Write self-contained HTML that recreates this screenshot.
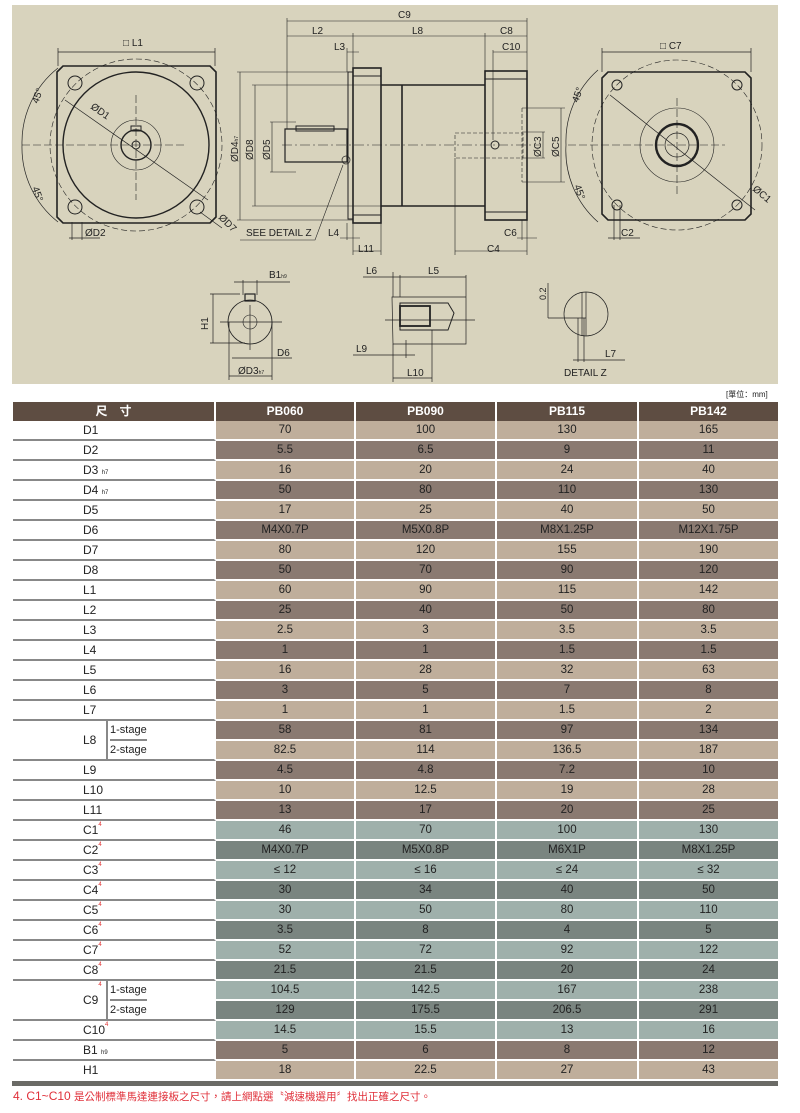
<!DOCTYPE html>
<html><head><meta charset="utf-8"><style>
*{margin:0;padding:0;box-sizing:border-box}
body{width:800px;height:1113px;background:#fff;position:relative;overflow:hidden;font-family:"Liberation Sans","Noto Sans CJK TC",sans-serif}
#tbl{position:absolute;left:13px;top:402px;width:765px}
.r{display:flex;height:20px}
.h{height:19px;display:flex}
.c{text-align:center;font-size:11.5px;line-height:18px;color:#222;border-bottom:2px solid #fff;border-right:2px solid #fff}
.L{width:203px;border-bottom:2px solid #888;border-right:2px solid #fff;font-size:12px;line-height:18px;padding-left:70px;color:#222;background:#fff;position:relative}
.w1{width:140px}.w2{width:141px}.w3{width:142px}.w4{width:139px;border-right:none}
.a{background:#bfae9b}.b{background:#8a7a71}.t{background:#9fb0ab}.u{background:#7a8580}
.hd{background:#5e4d42;color:#fff;font-weight:bold;font-size:12px;line-height:18px;text-align:center;border-right:2px solid #fff}
sub{font-size:6px;vertical-align:baseline}
sup{font-size:6px;color:#e03030;vertical-align:top;line-height:8px}
.s{position:absolute;left:93px;top:0;bottom:0;border-left:2px solid #888;padding-left:2px;font-size:11px}
</style></head><body>
<svg style="position:absolute;left:0;top:0" width="800" height="400" font-family="Liberation Sans" font-size="10" fill="#222">
<rect x="12" y="5" width="766" height="379" fill="#d8d3bd"/>
<g stroke="#222" fill="none">
<path d="M63 66 H210 L216 72 V217 L210 223 H63 L57 217 V72 Z" stroke-width="1.6"/>
<circle cx="136" cy="145" r="73" stroke-width="1.4"/>
<circle cx="136" cy="145" r="86" stroke-dasharray="6 3" stroke-width="0.6"/>
<circle cx="136" cy="145" r="25" stroke-width="0.6"/>
<circle cx="136" cy="145" r="15" stroke-width="1.4"/>
<circle cx="136" cy="145" r="4" stroke-width="1"/>
<rect x="131" y="126" width="10" height="5" stroke-width="1"/>
<circle cx="75" cy="83" r="7"/><circle cx="197" cy="83" r="7"/><circle cx="75" cy="207" r="7"/><circle cx="197" cy="207" r="7"/>
<path d="M22 145 H185 M136 95 V200" stroke-dasharray="8 3" stroke-width="0.6"/>
<path d="M65 100 L208 200 M58 52 H215 M58 48 V66 M215 48 V66 M72 222 V240 M82 222 V240 M69 238 H100 M200 212 L222 228" stroke-width="0.7"/>
<path d="M58 68 A95 95 0 0 0 22 145 A95 95 0 0 0 58 222" stroke-width="0.7"/>
<path d="M285 129 H347 V162 H285 Z" stroke-width="1.2"/>
<rect x="296" y="126" width="38" height="5" stroke-width="1"/>
<rect x="348" y="72" width="5" height="147" stroke-width="1"/>
<rect x="353" y="68" width="28" height="155" stroke-width="1.6"/>
<path d="M353 76 H381 M353 215 H381" stroke-width="1"/>
<path d="M381 85 H485 M381 206 H485 M402 85 V206" stroke-width="1.6"/>
<rect x="485" y="71" width="42" height="149" stroke-width="1.6"/>
<path d="M485 79 H527 M485 212 H527" stroke-width="1"/>
<circle cx="495" cy="145" r="4" stroke-width="1"/>
<circle cx="346" cy="160" r="4" stroke-width="0.7"/>
<path d="M282 145 H540" stroke-dasharray="10 3 2 3" stroke-width="0.6"/>
<path d="M455 133 H523 V158 H455 Z M522 108 V182" stroke-dasharray="4 2" stroke-width="0.6"/>
<g stroke-width="0.6">
<path d="M287 21 H527 M287 36 H527 M287 18 V129 M527 18 V71 M353 33 V68 M485 33 V71 M347 52 H359 M347 48 V72 M493 52 H527 M493 50 V140"/>
<path d="M237 72 H348 M237 220 H353 M240 72 V220 M252 85 H381 M252 206 H381 M255 85 V206 M270 122 H296 M270 172 H296 M272 122 V172"/>
<path d="M522 132 H545 M522 158 H545 M543 132 V158 M522 108 H565 M522 182 H565 M561 108 V182"/>
<path d="M340 238 H360 M347 223 V240 M353 223 V255 M381 223 V255 M353 251 H381 M455 158 V255 M527 220 V255 M455 251 H527 M517 238 H537 M522 220 V240 M240 240 H315 L343 165"/>
</g>
<path d="M608 72 H745 L751 78 V214 L745 220 H608 L602 214 V78 Z" stroke-width="1.6"/>
<circle cx="677" cy="145" r="85" stroke-dasharray="6 3" stroke-width="0.6"/>
<circle cx="677" cy="145" r="37" stroke-width="0.6"/>
<circle cx="677" cy="145" r="21" stroke-width="2.4"/>
<circle cx="677" cy="145" r="12" stroke-width="0.7"/>
<circle cx="617" cy="85" r="5"/><circle cx="737" cy="85" r="5"/><circle cx="617" cy="205" r="5"/><circle cx="737" cy="205" r="5"/>
<path d="M568 145 H725 M677 98 V195" stroke-dasharray="8 3" stroke-width="0.6"/>
<g stroke-width="0.7">
<path d="M610 95 L755 210 M602 52 H751 M602 48 V72 M751 48 V72 M614 205 V240 M620 205 V240 M608 238 H640"/>
<path d="M598 70 A95 95 0 0 0 566 145 A95 95 0 0 0 598 222"/>
</g>
<circle cx="250" cy="322" r="22" stroke-width="0.8"/>
<circle cx="250" cy="322" r="7" stroke-width="0.6"/>
<rect x="245" y="294" width="10" height="7" stroke-width="1.2"/>
<g stroke-width="0.7">
<path d="M210 294 H240 M210 343 H245 M213 294 V343 M220 322 H282 M250 305 V350 M243 280 V295 M257 280 V295 M234 282 H290"/>
<path d="M229 322 V380 M272 322 V380 M229 376 H272 M232 358 H292"/>
<path d="M392 297 H466 V344 H393 Z M393 272 V297 M400 275 V297 M466 275 V297 M363 277 H400 M400 277 H466"/>
<path d="M400 303 H448 L454 313 L448 330 H400 Z" stroke-width="1"/>
<path d="M385 320 H475 M393 344 V382 M432 330 V382 M393 378 H432 M353 355 H415 M406 340 V358"/>
<circle cx="586" cy="314" r="22"/>
<path d="M582 292 V336 M586 292 V336 M548 318 H586 M548 283 V318 M578 318 V362 M584 318 V362 M573 360 H625"/>
</g>
<rect x="400" y="306" width="30" height="20" stroke-width="1.8"/>
</g>
<text x="123" y="46">□ L1</text><text x="660" y="49">□ C7</text>
<text x="398" y="18">C9</text><text x="312" y="34">L2</text><text x="412" y="34">L8</text><text x="500" y="34">C8</text>
<text x="334" y="50">L3</text><text x="502" y="50">C10</text>
<text x="246" y="236">SEE DETAIL Z</text><text x="328" y="236">L4</text><text x="358" y="252">L11</text>
<text x="504" y="236">C6</text><text x="487" y="252">C4</text><text x="621" y="236">C2</text>
<text x="85" y="236">ØD2</text>
<text transform="translate(90,108) rotate(35)">ØD1</text>
<text transform="translate(218,218) rotate(45)">ØD7</text>
<text transform="translate(752,190) rotate(40)">ØC1</text>
<text transform="translate(38,104) rotate(-70)">45°</text>
<text transform="translate(32,188) rotate(70)">45°</text>
<text transform="translate(578,103) rotate(-70)">45°</text>
<text transform="translate(574,186) rotate(70)">45°</text>
<text transform="translate(238,162) rotate(-90)">ØD4<tspan font-size="5">h7</tspan></text>
<text transform="translate(253,160) rotate(-90)">ØD8</text>
<text transform="translate(270,160) rotate(-90)">ØD5</text>
<text transform="translate(541,157) rotate(-90)">ØC3</text>
<text transform="translate(559,157) rotate(-90)">ØC5</text>
<text transform="translate(208,330) rotate(-90)">H1</text>
<text transform="translate(546,300) rotate(-90)" font-size="9">0.2</text>
<text x="269" y="278">B1<tspan font-size="5">h9</tspan></text>
<text x="277" y="356">D6</text><text x="238" y="374">ØD3<tspan font-size="5">h7</tspan></text>
<text x="366" y="274">L6</text><text x="428" y="274">L5</text><text x="356" y="352">L9</text><text x="407" y="376">L10</text>
<text x="605" y="357">L7</text><text x="564" y="376">DETAIL Z</text>
<text x="726" y="397" font-size="8">[單位：mm]</text>
</svg>
<div id="tbl">
<div class="h"><div class="hd" style="width:203px">尺　寸</div><div class="hd w1">PB060</div><div class="hd w2">PB090</div><div class="hd w3">PB115</div><div class="hd w4" style="border-right:none">PB142</div></div>
<div class="r"><div class="L">D1</div><div class="c a w1">70</div><div class="c a w2">100</div><div class="c a w3">130</div><div class="c a w4">165</div></div>
<div class="r"><div class="L">D2</div><div class="c b w1">5.5</div><div class="c b w2">6.5</div><div class="c b w3">9</div><div class="c b w4">11</div></div>
<div class="r"><div class="L">D3 <sub>h7</sub></div><div class="c a w1">16</div><div class="c a w2">20</div><div class="c a w3">24</div><div class="c a w4">40</div></div>
<div class="r"><div class="L">D4 <sub>h7</sub></div><div class="c b w1">50</div><div class="c b w2">80</div><div class="c b w3">110</div><div class="c b w4">130</div></div>
<div class="r"><div class="L">D5</div><div class="c a w1">17</div><div class="c a w2">25</div><div class="c a w3">40</div><div class="c a w4">50</div></div>
<div class="r"><div class="L">D6</div><div class="c b w1">M4X0.7P</div><div class="c b w2">M5X0.8P</div><div class="c b w3">M8X1.25P</div><div class="c b w4">M12X1.75P</div></div>
<div class="r"><div class="L">D7</div><div class="c a w1">80</div><div class="c a w2">120</div><div class="c a w3">155</div><div class="c a w4">190</div></div>
<div class="r"><div class="L">D8</div><div class="c b w1">50</div><div class="c b w2">70</div><div class="c b w3">90</div><div class="c b w4">120</div></div>
<div class="r"><div class="L">L1</div><div class="c a w1">60</div><div class="c a w2">90</div><div class="c a w3">115</div><div class="c a w4">142</div></div>
<div class="r"><div class="L">L2</div><div class="c b w1">25</div><div class="c b w2">40</div><div class="c b w3">50</div><div class="c b w4">80</div></div>
<div class="r"><div class="L">L3</div><div class="c a w1">2.5</div><div class="c a w2">3</div><div class="c a w3">3.5</div><div class="c a w4">3.5</div></div>
<div class="r"><div class="L">L4</div><div class="c b w1">1</div><div class="c b w2">1</div><div class="c b w3">1.5</div><div class="c b w4">1.5</div></div>
<div class="r"><div class="L">L5</div><div class="c a w1">16</div><div class="c a w2">28</div><div class="c a w3">32</div><div class="c a w4">63</div></div>
<div class="r"><div class="L">L6</div><div class="c b w1">3</div><div class="c b w2">5</div><div class="c b w3">7</div><div class="c b w4">8</div></div>
<div class="r"><div class="L">L7</div><div class="c a w1">1</div><div class="c a w2">1</div><div class="c a w3">1.5</div><div class="c a w4">2</div></div>
<div style="display:flex;height:40px"><div class="L" style="line-height:38px">L8<div class="s"><div style="height:20px;border-bottom:2px solid #888;line-height:18px">1-stage</div><div style="line-height:18px">2-stage</div></div></div>
<div><div class="r"><div class="c b w1">58</div><div class="c b w2">81</div><div class="c b w3">97</div><div class="c b w4">134</div></div>
<div class="r"><div class="c a w1">82.5</div><div class="c a w2">114</div><div class="c a w3">136.5</div><div class="c a w4">187</div></div></div></div>
<div class="r"><div class="L">L9</div><div class="c b w1">4.5</div><div class="c b w2">4.8</div><div class="c b w3">7.2</div><div class="c b w4">10</div></div>
<div class="r"><div class="L">L10</div><div class="c a w1">10</div><div class="c a w2">12.5</div><div class="c a w3">19</div><div class="c a w4">28</div></div>
<div class="r"><div class="L">L11</div><div class="c b w1">13</div><div class="c b w2">17</div><div class="c b w3">20</div><div class="c b w4">25</div></div>
<div class="r"><div class="L">C1<sup>4</sup></div><div class="c t w1">46</div><div class="c t w2">70</div><div class="c t w3">100</div><div class="c t w4">130</div></div>
<div class="r"><div class="L">C2<sup>4</sup></div><div class="c u w1">M4X0.7P</div><div class="c u w2">M5X0.8P</div><div class="c u w3">M6X1P</div><div class="c u w4">M8X1.25P</div></div>
<div class="r"><div class="L">C3<sup>4</sup></div><div class="c t w1">≤ 12</div><div class="c t w2">≤ 16</div><div class="c t w3">≤ 24</div><div class="c t w4">≤ 32</div></div>
<div class="r"><div class="L">C4<sup>4</sup></div><div class="c u w1">30</div><div class="c u w2">34</div><div class="c u w3">40</div><div class="c u w4">50</div></div>
<div class="r"><div class="L">C5<sup>4</sup></div><div class="c t w1">30</div><div class="c t w2">50</div><div class="c t w3">80</div><div class="c t w4">110</div></div>
<div class="r"><div class="L">C6<sup>4</sup></div><div class="c u w1">3.5</div><div class="c u w2">8</div><div class="c u w3">4</div><div class="c u w4">5</div></div>
<div class="r"><div class="L">C7<sup>4</sup></div><div class="c t w1">52</div><div class="c t w2">72</div><div class="c t w3">92</div><div class="c t w4">122</div></div>
<div class="r"><div class="L">C8<sup>4</sup></div><div class="c u w1">21.5</div><div class="c u w2">21.5</div><div class="c u w3">20</div><div class="c u w4">24</div></div>
<div style="display:flex;height:40px"><div class="L" style="line-height:38px">C9<sup>4</sup><div class="s"><div style="height:20px;border-bottom:2px solid #888;line-height:18px">1-stage</div><div style="line-height:18px">2-stage</div></div></div>
<div><div class="r"><div class="c t w1">104.5</div><div class="c t w2">142.5</div><div class="c t w3">167</div><div class="c t w4">238</div></div>
<div class="r"><div class="c u w1">129</div><div class="c u w2">175.5</div><div class="c u w3">206.5</div><div class="c u w4">291</div></div></div></div>
<div class="r"><div class="L">C10<sup>4</sup></div><div class="c t w1">14.5</div><div class="c t w2">15.5</div><div class="c t w3">13</div><div class="c t w4">16</div></div>
<div class="r"><div class="L">B1 <sub>h9</sub></div><div class="c b w1">5</div><div class="c b w2">6</div><div class="c b w3">8</div><div class="c b w4">12</div></div>
<div class="r"><div class="L" style="border-bottom:none">H1</div><div class="c a w1">18</div><div class="c a w2">22.5</div><div class="c a w3">27</div><div class="c a w4">43</div></div>
</div>
<div style="position:absolute;left:12px;top:1081px;width:766px;height:5px;background:#6b6b66"></div>
<div style="position:absolute;left:13px;top:1089px;font-size:12px;color:#e0303a;white-space:nowrap">4. C1~C10 <span style="font-size:10.5px">是公制標準馬達連接板之尺寸，請上網點選〝減速機選用〞找出正確之尺寸。</span></div>
</body></html>
